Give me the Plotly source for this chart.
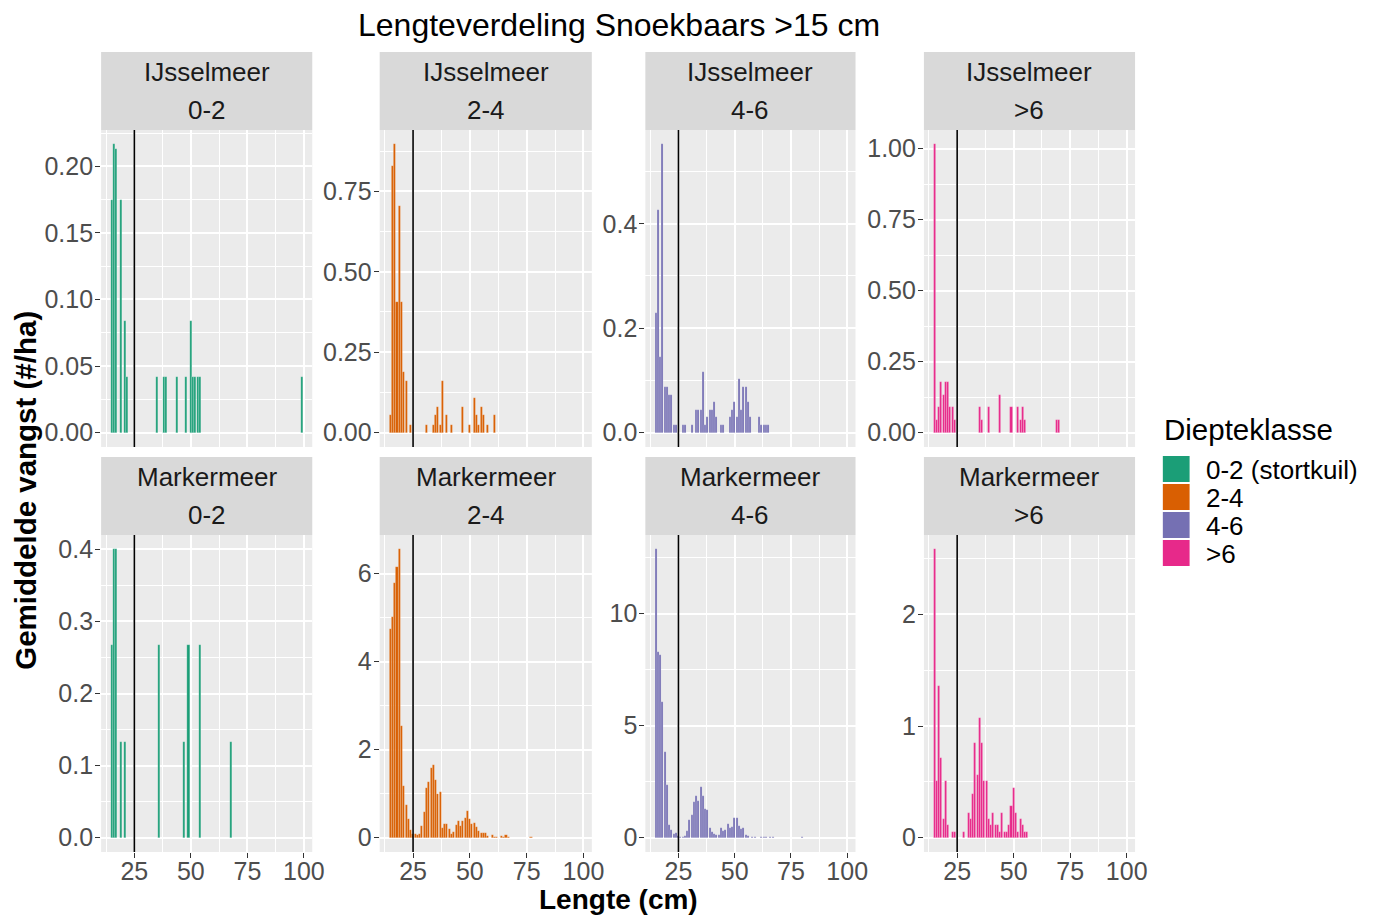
import plotly.graph_objects as go

W, H = 1384, 916
FONT = "Liberation Sans, Arial, sans-serif"

# ---- data: mean catch (#/ha) per length class (cm) ----
meren = ["IJsselmeer"] * 4 + ["Markermeer"] * 4
klassen = ["0-2", "2-4", "4-6", ">6"] * 2
legend_labels = ["0-2 (stortkuil)", "2-4", "4-6", ">6"]
kleuren = ["#1B9E77", "#D95F02", "#7570B3", "#E7298A"]

ijs_02_lengte = [15, 16, 17, 19, 21, 22, 35, 38, 39, 44, 48, 50, 51, 52, 53, 54, 99]
ijs_02_vangst = [0.1745, 0.2165, 0.2128, 0.1745, 0.084, 0.042, 0.042, 0.042, 0.042,
                 0.042, 0.042, 0.084, 0.042, 0.042, 0.042, 0.042, 0.042]

ijs_24_lengte = [15, 16, 17, 18, 19, 20, 21, 22, 24, 31, 34, 35, 36, 37, 38, 40, 42,
                 47, 50, 52, 53, 54, 55, 56, 58, 61]
ijs_24_vangst = [0.054, 0.83, 0.896, 0.407, 0.705, 0.407, 0.189, 0.161, 0.025, 0.025,
                 0.025, 0.054, 0.081, 0.025, 0.161, 0.054, 0.025, 0.081, 0.025, 0.108,
                 0.054, 0.025, 0.081, 0.054, 0.025, 0.054]

ijs_46_lengte = [15, 16, 17, 18, 19, 20, 21, 22, 23, 24, 27, 28, 31, 33, 34, 35, 36,
                 37, 38, 39, 40, 41, 42, 44, 45, 48, 49, 50, 51, 52, 53, 54, 55, 56,
                 57, 61, 62, 63, 64, 65]
ijs_46_vangst = [0.229, 0.426, 0.145, 0.552, 0.087, 0.087, 0.072, 0.072, 0.0146, 0.0146,
                 0.0146, 0.0146, 0.0146, 0.0433, 0.0433, 0.0433, 0.1166, 0.0146, 0.029,
                 0.0433, 0.0433, 0.058, 0.029, 0.0146, 0.0146, 0.029, 0.0433, 0.058,
                 0.029, 0.102, 0.0433, 0.087, 0.087, 0.058, 0.029, 0.029, 0.0146,
                 0.0146, 0.0146, 0.0146]

ijs_6_lengte = [15, 16, 17, 18, 19, 20, 21, 22, 23, 24, 35, 36, 39, 44, 49, 52, 53,
                54, 55, 69, 70]
ijs_6_vangst = [1.015, 0.0445, 0.089, 0.179, 0.132, 0.179, 0.179, 0.089, 0.089, 0.0445,
                0.089, 0.0445, 0.089, 0.132, 0.089, 0.089, 0.0445, 0.089, 0.0445,
                0.0445, 0.0445]

mark_02_lengte = [15, 16, 17, 19, 21, 36, 47, 49, 54, 68]
mark_02_vangst = [0.2667, 0.4, 0.4, 0.1333, 0.1333, 0.2667, 0.1333, 0.2667, 0.2667, 0.1333]

mark_24_lengte = [15, 16, 17, 18, 19, 20, 21, 22, 23, 24, 25, 26, 27, 28, 29, 30, 31,
                  32, 33, 34, 35, 36, 37, 38, 39, 40, 41, 42, 43, 44, 45, 46, 47, 48,
                  49, 50, 51, 52, 53, 54, 55, 56, 57, 58, 60, 61, 62, 64, 65, 66, 67, 77]
mark_24_vangst = [4.73, 5.02, 5.78, 6.16, 6.55, 2.53, 1.17, 0.75, 0.42, 0.17, 0.08,
                  0.075, 0.06, 0.083, 0.256, 0.587, 1.13, 1.265, 1.593, 1.64, 1.32,
                  0.995, 1.03, 0.226, 0.31, 0.31, 0.19, 0.09, 0.13, 0.29, 0.38, 0.27,
                  0.377, 0.445, 0.61, 0.42, 0.31, 0.34, 0.23, 0.14, 0.1, 0.1, 0.105,
                  0.045, 0.053, 0.02, 0.02, 0.045, 0.023, 0.06, 0.023, 0.023]

mark_46_lengte = [15, 16, 17, 18, 19, 20, 21, 22, 23, 24, 25, 26, 27, 28, 29, 30, 31,
                  32, 33, 34, 35, 36, 37, 38, 39, 40, 41, 42, 43, 44, 45, 46, 47, 48,
                  49, 50, 51, 52, 53, 54, 55, 56, 58, 59, 62, 63, 64, 66, 67, 80]
mark_46_vangst = [12.86, 8.26, 8.15, 6.07, 3.82, 2.33, 0.55, 0.33, 0.18, 0.2, 0.09,
                  0.04, 0.04, 0.05, 0.3, 0.78, 1.0, 1.57, 1.86, 1.62, 2.27, 1.87, 1.27,
                  1.22, 0.45, 0.23, 0.15, 0.11, 0.11, 0.41, 0.29, 0.32, 0.6, 0.43, 0.46,
                  0.88, 0.86, 0.52, 0.4, 0.43, 0.1, 0.06, 0.03, 0.03, 0.03, 0.03, 0.03,
                  0.03, 0.03, 0.03]

mark_6_lengte = [15, 16, 17, 18, 19, 20, 21, 23, 24, 28, 30, 31, 32, 33, 34, 35, 36,
                 37, 38, 39, 40, 41, 42, 43, 44, 45, 46, 47, 48, 49, 50, 51, 52, 53,
                 54, 55, 56]
mark_6_vangst = [2.583, 0.507, 1.36, 0.715, 0.163, 0.504, 0.113, 0.053, 0.053, 0.053,
                 0.22, 0.163, 0.392, 0.846, 0.561, 1.068, 0.846, 0.504, 0.504, 0.163,
                 0.113, 0.22, 0.113, 0.113, 0.053, 0.22, 0.053, 0.053, 0.113, 0.282,
                 0.448, 0.22, 0.053, 0.163, 0.113, 0.053, 0.053]

lengtes = [ijs_02_lengte, ijs_24_lengte, ijs_46_lengte, ijs_6_lengte,
           mark_02_lengte, mark_24_lengte, mark_46_lengte, mark_6_lengte]
vangsten = [ijs_02_vangst, ijs_24_vangst, ijs_46_vangst, ijs_6_vangst,
            mark_02_vangst, mark_24_vangst, mark_46_vangst, mark_6_vangst]

# y-axis break spacing and label format per panel
y_dtick = [0.05, 0.25, 0.2, 0.25, 0.1, 2, 5, 1]
y_format = [".2f", ".2f", ".1f", ".2f", ".1f", "d", "d", "d"]

grens_lengte = 25   # vertical reference line (cm)
bar_breedte = 0.9

# ---- panel geometry (pixels) ----
cols_px = [(102, 315), (383, 597), (651, 863), (932, 1145)]
rows_px = [(130, 447), (535, 852)]
strip_h = 78


def px_x(v):
    return v / W


def px_y(v):
    return 1 - v / H


# shared x range (5% expansion around the bar extents)
alle = [l for ls in lengtes for l in ls]
xlo, xhi = min(alle) - bar_breedte / 2, max(alle) + bar_breedte / 2
xpad = 0.05 * (xhi - xlo)
x_range = [xlo - xpad, xhi + xpad]

fig = go.Figure()
layout = dict(
    width=W, height=H, autosize=False,
    margin=dict(l=0, r=0, t=0, b=0),
    paper_bgcolor="white",
    plot_bgcolor="#EBEBEB",
    showlegend=False,
    bargap=0,
    font=dict(family=FONT),
)
shapes = []
annotations = []
tick_font = dict(family=FONT, size=25, color="#4D4D4D")
strip_font = dict(family=FONT, size=26, color="#1A1A1A")

for i in range(8):
    r, c = divmod(i, 4)
    kleur = kleuren[c]
    xa = "x" if i == 0 else f"x{i + 1}"
    ya = "y" if i == 0 else f"y{i + 1}"
    fig.add_trace(go.Bar(
        x=lengtes[i], y=vangsten[i], width=bar_breedte,
        marker=dict(color=kleur, line=dict(color="rgba(255,255,255,0.35)", width=0.6)),
        xaxis=xa, yaxis=ya, showlegend=False,
    ))

    x0, x1 = cols_px[c]
    y0, y1 = rows_px[r]
    ymax = max(vangsten[i])
    y_range = [-0.05 * ymax, 1.05 * ymax]

    bottom = (r == 1)
    layout["xaxis" if i == 0 else f"xaxis{i + 1}"] = dict(
        domain=[px_x(x0), px_x(x1)], anchor=ya, range=x_range,
        tick0=0, dtick=25,
        showgrid=True, gridcolor="white", gridwidth=1.8,
        minor=dict(showgrid=True, gridcolor="white", gridwidth=0.9, tick0=0, dtick=12.5),
        zeroline=False, showline=False,
        ticks="outside" if bottom else "", ticklen=5, tickwidth=1.4, tickcolor="#333333",
        showticklabels=bottom, ticklabelstandoff=-8,
        tickfont=tick_font,
        fixedrange=True,
    )
    layout["yaxis" if i == 0 else f"yaxis{i + 1}"] = dict(
        domain=[px_y(y1), px_y(y0)], anchor=xa, range=y_range,
        tick0=0, dtick=y_dtick[i], tickformat=y_format[i],
        showgrid=True, gridcolor="white", gridwidth=1.8,
        minor=dict(showgrid=True, gridcolor="white", gridwidth=0.9, tick0=0,
                   dtick=y_dtick[i] / 2),
        zeroline=False, showline=False,
        ticks="outside", ticklen=5, tickwidth=1.4, tickcolor="#333333",
        ticklabelstandoff=-3,
        tickfont=tick_font,
        fixedrange=True,
    )

    # vertical line at the reference length
    shapes.append(dict(type="line", xref=xa, yref=f"{ya} domain",
                       x0=grens_lengte, x1=grens_lengte, y0=0, y1=1,
                       line=dict(color="black", width=1.6)))

    # facet strip
    shapes.append(dict(type="rect", xref="paper", yref="paper",
                       x0=px_x(x0), x1=px_x(x1), y0=px_y(y0), y1=px_y(y0 - strip_h),
                       fillcolor="#D9D9D9", line=dict(width=0), layer="below"))
    xc = px_x((x0 + x1) / 2)
    annotations.append(dict(text=meren[i], x=xc, y=px_y(y0 - strip_h + 20),
                            xref="paper", yref="paper", showarrow=False,
                            xanchor="center", yanchor="middle", font=strip_font))
    annotations.append(dict(text=klassen[i], x=xc, y=px_y(y0 - strip_h + 58),
                            xref="paper", yref="paper", showarrow=False,
                            xanchor="center", yanchor="middle", font=strip_font))

# titles
annotations.append(dict(text="Lengteverdeling Snoekbaars >15 cm", x=px_x(624), y=px_y(25),
                        xref="paper", yref="paper", showarrow=False,
                        xanchor="center", yanchor="middle",
                        font=dict(family=FONT, size=32, color="black")))
annotations.append(dict(text="<b>Lengte (cm)</b>", x=px_x(624), y=px_y(899),
                        xref="paper", yref="paper", showarrow=False,
                        xanchor="center", yanchor="middle",
                        font=dict(family=FONT, size=28, color="black")))
annotations.append(dict(text="<b>Gemiddelde vangst (#/ha)</b>", x=px_x(25), y=px_y(490),
                        xref="paper", yref="paper", showarrow=False, textangle=-90,
                        xanchor="center", yanchor="middle",
                        font=dict(family=FONT, size=29.5, color="black")))

# legend
annotations.append(dict(text="Diepteklasse", x=px_x(1172), y=px_y(429),
                        xref="paper", yref="paper", showarrow=False,
                        xanchor="left", yanchor="middle",
                        font=dict(family=FONT, size=29.5, color="black")))
for k, (lab, kl) in enumerate(zip(legend_labels, kleuren)):
    top = 456 + 28 * k
    shapes.append(dict(type="rect", xref="paper", yref="paper",
                       x0=px_x(1173), x1=px_x(1200), y0=px_y(top + 26), y1=px_y(top),
                       fillcolor=kl, line=dict(width=0)))
    annotations.append(dict(text=lab, x=px_x(1215), y=px_y(top + 14),
                            xref="paper", yref="paper", showarrow=False,
                            xanchor="left", yanchor="middle",
                            font=dict(family=FONT, size=26, color="black")))

layout["shapes"] = shapes
layout["annotations"] = annotations
fig.update_layout(**layout)

# keep the page free of scrollbars so the figure keeps its full size
page_css = (
    "document.documentElement.style.overflow='hidden';"
    "document.body.style.overflow='hidden';"
    "document.body.style.margin='0';"
)
fig.write_html("out.html", config={"responsive": False}, post_script=page_css)
